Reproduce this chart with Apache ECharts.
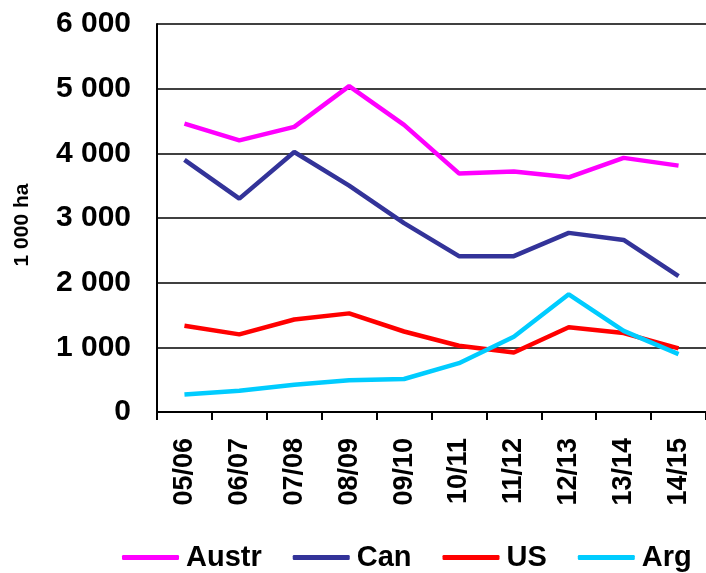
<!DOCTYPE html>
<html>
<head>
<meta charset="utf-8">
<title>Area 1 000 ha</title>
<script src="https://cdn.jsdelivr.net/npm/echarts@6/dist/echarts.min.js"></script>
<style>
  html, body { margin: 0; padding: 0; background: #fff; }
  #chart { width: 706px; height: 573px; }
</style>
</head>
<body>
<div id="chart"></div>
<script>
const seasons = ['05/06', '06/07', '07/08', '08/09', '09/10', '10/11', '11/12', '12/13', '13/14', '14/15'];
const austr = [4460, 4200, 4410, 5040, 4440, 3690, 3720, 3630, 3930, 3810];
const can = [3900, 3300, 4020, 3500, 2920, 2410, 2410, 2770, 2660, 2100];
const us = [1335, 1200, 1430, 1525, 1245, 1025, 920, 1310, 1220, 985];
const arg = [270, 330, 420, 490, 510, 755, 1165, 1820, 1255, 895];

const font = 'Liberation Sans, Arial, sans-serif';

// one line per country
const makeLine = (name, data, color) => ({
  name,
  type: 'line',
  data,
  showSymbol: false,
  symbol: 'none',
  lineStyle: { color, width: 4.5 },
  itemStyle: { color },
  animation: false
});

const option = {
  backgroundColor: '#fff',
  animation: false,
  grid: { left: 157, top: 24, width: 552, height: 388 },
  legend: {
    top: 538,
    left: 117,
    icon: 'roundRect',
    itemWidth: 57,
    itemHeight: 5,
    itemGap: 31,
    textStyle: { fontFamily: font, fontWeight: 'bold', fontSize: 29, color: '#000', padding: [0, 0, 0, 2] },
    data: ['Austr', 'Can', 'US', 'Arg']
  },
  xAxis: {
    type: 'category',
    data: seasons,
    boundaryGap: true,
    axisLine: { lineStyle: { color: '#000', width: 2 } },
    axisTick: { show: true, length: 8, lineStyle: { color: '#000', width: 2 } },
    axisLabel: {
      rotate: 90,
      margin: 26,
      fontFamily: font,
      fontWeight: 'bold',
      fontSize: 27,
      color: '#000',
      padding: [0, 0, 8, 0]
    },
    splitLine: { show: false }
  },
  yAxis: {
    type: 'value',
    min: 0,
    max: 6000,
    interval: 1000,
    name: '1 000 ha',
    nameLocation: 'middle',
    nameRotate: 90,
    nameGap: 124,
    nameTextStyle: { fontFamily: font, fontWeight: 'bold', fontSize: 21, color: '#000', padding: [0, 14, 0, 0] },
    axisLine: { show: true, lineStyle: { color: '#000', width: 2 } },
    axisTick: { show: false },
    axisLabel: {
      margin: 26,
      fontFamily: font,
      fontWeight: 'bold',
      fontSize: 30,
      color: '#000',
      formatter: v => String(v).replace(/\B(?=(\d{3})+(?!\d))/g, ' ')
    },
    splitLine: { show: true, lineStyle: { color: '#000', width: 1.5 } }
  },
  series: [
    makeLine('Austr', austr, '#FF00FF'),
    makeLine('Can', can, '#333399'),
    makeLine('US', us, '#FF0000'),
    makeLine('Arg', arg, '#00CCFF')
  ]
};

const chart = echarts.init(document.getElementById('chart'), null, { renderer: 'canvas' });
chart.setOption(option, { notMerge: true });
</script>
</body>
</html>
